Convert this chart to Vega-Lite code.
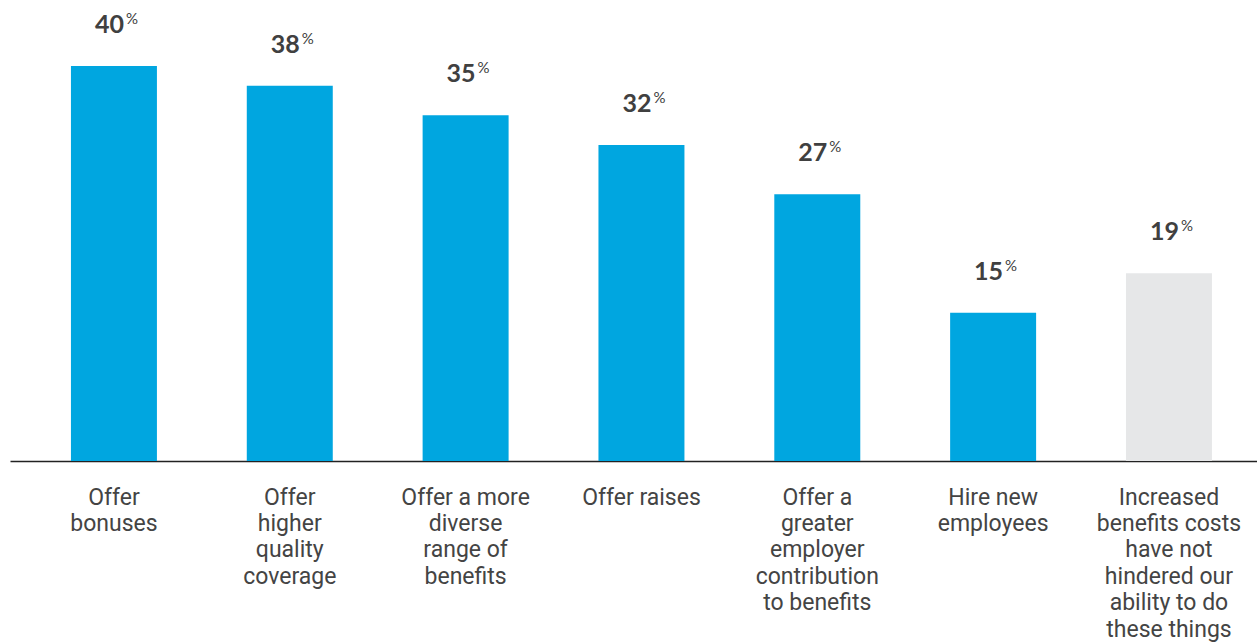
{
  "$schema": "https://vega.github.io/schema/vega-lite/v6.json",
  "width": 1247,
  "height": 461,
  "autosize": "none",
  "padding": {"left": 10, "top": 0, "right": 0, "bottom": 183},
  "background": "white",
  "config": {"view": {"stroke": null}},
  "data": {
    "values": [
      {"label": "Offer|bonuses", "value": 40, "kind": "a"},
      {"label": "Offer|higher|quality|coverage", "value": 38, "kind": "a"},
      {"label": "Offer a more|diverse|range of|benefits", "value": 35, "kind": "a"},
      {"label": "Offer raises", "value": 32, "kind": "a"},
      {"label": "Offer a|greater|employer|contribution|to benefits", "value": 27, "kind": "a"},
      {"label": "Hire new|employees", "value": 15, "kind": "a"},
      {"label": "Increased|benefits costs|have not|hindered our|ability to do|these things", "value": 19, "kind": "b"}
    ]
  },
  "encoding": {
    "x": {
      "field": "label",
      "type": "nominal",
      "sort": null,
      "scale": {"paddingInner": 0.511, "paddingOuter": 0.3014, "align": 0.575},
      "axis": {
        "title": null,
        "labelAngle": 0,
        "ticks": false,
        "domainColor": "#222222",
        "domainWidth": 1.5,
        "labelExpr": "split(datum.label, '|')",
        "labelFont": "Roboto, sans-serif",
        "labelFontSize": 23,
        "labelLineHeight": 26.4,
        "labelColor": "#444444",
        "labelPadding": 25,
        "labelBaseline": "top",
        "labelAlign": "center"
      }
    },
    "y": {
      "field": "value",
      "type": "quantitative",
      "scale": {"domain": [0, 46.68], "nice": false, "zero": true},
      "axis": null
    }
  },
  "layer": [
    {
      "mark": {"type": "bar"},
      "encoding": {
        "color": {
          "field": "kind",
          "type": "nominal",
          "scale": {"domain": ["a", "b"], "range": ["#00A6E0", "#E6E7E8"]},
          "legend": null
        }
      }
    },
    {
      "mark": {"type": "text", "align": "right", "baseline": "alphabetic", "dx": 10, "dy": -33, "font": "Lato, DejaVu Sans, sans-serif", "fontWeight": "bold", "fontSize": 25, "fill": "#404040"},
      "encoding": {"text": {"field": "value", "type": "quantitative"}}
    },
    {
      "mark": {"type": "text", "align": "left", "baseline": "alphabetic", "dx": 12, "dy": -42, "font": "Lato, DejaVu Sans, sans-serif", "fontSize": 15, "fill": "#404040"},
      "encoding": {"text": {"value": "%"}}
    }
  ]
}
